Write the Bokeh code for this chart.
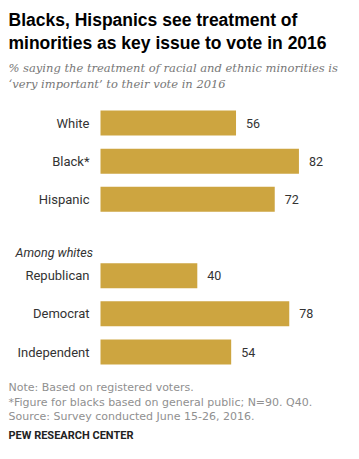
from bokeh.plotting import figure
from bokeh.models import Range1d, Label, ColumnDataSource
from bokeh.core.properties import value
from bokeh.embed import file_html
from bokeh.resources import INLINE

# ---- data ----
groups = ["White", "Black*", "Hispanic", "Republican", "Democrat", "Independent"]
values = [56, 82, 72, 40, 78, 54]
slots = [0, 1, 2, 4, 5, 6]  # row slots (slot 3 is the "Among whites" gap)
value_labels = [str(v) for v in values]

title_lines = ["Blacks, Hispanics see treatment of",
               "minorities as key issue to vote in 2016"]
subtitle_lines = ["% saying the treatment of racial and ethnic minorities is",
                  "\u2018very important\u2019 to their vote in 2016"]
section_label = "Among whites"
note_lines = ["Note: Based on registered voters.",
              "*Figure for blacks based on general public; N=90. Q40.",
              "Source: Survey conducted June 15-26, 2016."]
source_label = "PEW RESEARCH CENTER"

# ---- layout ----
W, H = 343, 443
PX_PER_UNIT = 2.42
ZERO_PX = 100
SHIFT = -4
FIRST_ROW = 126.5 + SHIFT
ROW_STEP = 38.17
BAR_H = 25

row_y = [FIRST_ROW + ROW_STEP * s for s in slots]

p = figure(width=W, height=H, output_backend="svg", toolbar_location=None,
           x_range=Range1d(-ZERO_PX / PX_PER_UNIT, (W - ZERO_PX) / PX_PER_UNIT),
           y_range=Range1d(H, 0), min_border=0)
p.axis.visible = False
p.grid.visible = False
p.outline_line_color = None
p.background_fill_color = "white"
p.border_fill_color = "white"

src = ColumnDataSource(dict(y=row_y, v=values, g=groups, vl=value_labels,
                            zero=[0] * len(values)))

p.hbar(y="y", left=0, right="v", height=BAR_H, source=src,
       fill_color="#CDA540", line_color=None)

p.text(x="v", y="y", text="vl", source=src, x_offset=10,
       text_align="left", text_baseline="middle",
       text_font=value("Roboto"), text_font_size="12.5px", text_color="#333333")

p.text(x="zero", y="y", text="g", source=src, x_offset=-11,
       text_align="right", text_baseline="middle",
       text_font=value("Roboto"), text_font_size="13px", text_color="#333333")

def add_label(text, x, y, font="Roboto", size="12px", style="normal",
              color="#000000"):
    p.add_layout(Label(x=x, y=y, x_units="screen", y_units="data", text=text,
                       text_font=font, text_font_size=size,
                       text_font_style=style, text_color=color,
                       text_baseline="alphabetic", text_align="left"))

add_label(title_lines[0], 8, 23 + SHIFT, font="Liberation Sans", size="17.5px",
          style="bold", color="#000000")
add_label(title_lines[1], 8, 46 + SHIFT, font="Liberation Sans", size="17.5px",
          style="bold", color="#000000")
add_label(subtitle_lines[0], 8, 71 + SHIFT, font="DejaVu Serif", size="11.5px",
          style="italic", color="#777777")
add_label(subtitle_lines[1], 8, 87 + SHIFT, font="DejaVu Serif", size="11.5px",
          style="italic", color="#777777")
add_label(section_label, 15, 256 + SHIFT, size="12.5px", style="italic",
          color="#333333")
for i, ln in enumerate(note_lines):
    add_label(ln, 8, 387 + 14.5 * i, font="DejaVu Sans", size="11px",
              color="#909090")
add_label(source_label, 8, 435, size="11px", style="bold", color="#222222")

open("out.html", "w").write(file_html(p, INLINE))
